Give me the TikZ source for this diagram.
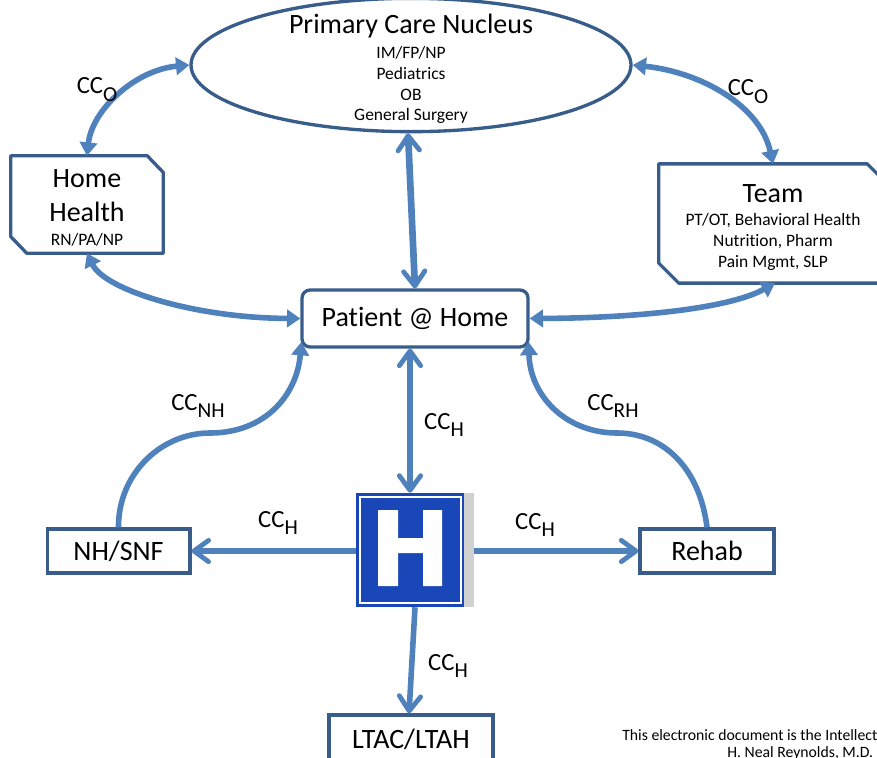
\documentclass[tikz,border=0pt]{standalone}
\usepackage{fontspec}
\setmainfont[Ligatures=NoCommon]{Carlito}
\usetikzlibrary{arrows.meta,shapes.geometric}
\definecolor{linkblue}{HTML}{4F81BD}
\definecolor{edgeblue}{HTML}{385D8A}
\definecolor{signblue}{HTML}{1A47B8}
\tikzset{
  x=0.75pt,y=-0.75pt,
  boxline/.style={draw=edgeblue,line width=2.5pt,fill=white,inner sep=0pt,align=center},
  rectbox/.style={boxline,rectangle},
  ghost/.style={rectangle,inner sep=0pt},
  chamfer/.style={draw=edgeblue,line width=2.5pt,fill=white,line join=round},
  link/.style={draw=linkblue,line width=4.2pt},
  thicklink/.style={draw=linkblue,line width=5pt},
  solidtip/.tip={Triangle[length=10pt,width=13pt]},
  opentip/.tip={Straight Barb[length=11pt,width=16pt,line width=3.6pt,round]},
  big/.style={font=\fontsize{21}{25.5}\selectfont},
  small/.style={font=\fontsize{13.1}{15.5}\selectfont,text=black},
  lab/.style={font=\fontsize{18.5}{20}\selectfont,inner sep=0pt},
  foot/.style={font=\fontsize{11.8}{14}\selectfont,anchor=west,inner sep=0pt},
}
\newcommand{\CCsub}[1]{CC\raisebox{-0.32em}{\fontsize{16}{16}\selectfont #1}}
\newcommand{\dropped}[1]{\raisebox{-0.9pt}{#1}}
\begin{document}
\begin{tikzpicture}
\useasboundingbox (0,0) rectangle (877,757);
\clip (0,0) rectangle (877,757);
% nodes
\node[boxline,ellipse,minimum width=330pt,minimum height=100pt] (nucleus) at (411,65) {};
\node[big] (nucleustitle) at (411,26.5) {Primary Care Nucleus};
\node[small,align=center,anchor=north] (nucleustext) at (411,42) {IM/FP/NP\\Pediatrics\\OB\\General Surgery};
\node[ghost,minimum width=114pt,minimum height=72.7pt] (home) at (87,204.5) {};
\draw[chamfer] (home.north west) -- ([xshift=-12pt]home.north east) -- ([yshift=-12.5pt]home.north east) -- (home.south east) -- ([xshift=12pt]home.south west) -- ([yshift=12.5pt]home.south west) -- cycle;
\node[big,align=center] (hometitle) at (87,196) {Home\\Health};
\node[small] (hometext) at (87,240) {RN/PA/NP};
\node[ghost,minimum width=171pt,minimum height=89pt] (team) at (773,223.5) {};
\draw[chamfer] (team.north west) -- ([xshift=-15pt]team.north east) -- ([yshift=-15pt]team.north east) -- (team.south east) -- ([xshift=15pt]team.south west) -- ([yshift=15pt]team.south west) -- cycle;
\node[big] (teamtitle) at (773,194) {Team};
\node[small,align=center] (teamtext) at (773,242) {PT/OT, Behavioral Health\\Nutrition, Pharm\\Pain Mgmt, SLP};
\node[boxline,rectangle,rounded corners=6pt,minimum width=169.5pt,minimum height=42.7pt,big] (patient) at (415,318.5) {\dropped{Patient @ Home}};
\node[rectbox,minimum width=107pt,minimum height=33pt,big] (snf) at (118.5,551) {\dropped{NH/SNF}};
\node[rectbox,minimum width=100.5pt,minimum height=33pt,big] (rehab) at (707,551) {\dropped{Rehab}};
\node[rectbox,line width=3.1pt,minimum width=123.5pt,minimum height=40pt] (ltac) at (411,742) {};
\node[big] (ltactext) at (411,739) {LTAC/LTAH};
% hospital sign
\fill[black!18] (464,493) rectangle (474,607);
\node[rectangle,fill=signblue,minimum width=80.5pt,minimum height=85.5pt,inner sep=0pt] (hospital) at (410,550) {};
\draw[white,line width=0.9pt] (360,497) rectangle (461,603);
\fill[white] (378,510) -- (398,510) -- (398,538) -- (423,538) -- (423,510) -- (442,510) -- (442,586) -- (423,586) -- (423,553) -- (398,553) -- (398,586) -- (378,586) -- cycle;
% anchors of the connectors
\coordinate (nb) at ([xshift=-2.25pt]nucleus.south);
\coordinate (pb) at ([xshift=-3.75pt]patient.south);
\coordinate (pbl) at ([xshift=0.75pt,yshift=5pt]patient.south west);
\coordinate (pbr) at ([xshift=-0.75pt,yshift=5pt]patient.south east);
\coordinate (tb) at ([xshift=1.5pt]team.south);
\coordinate (sgl) at ([yshift=-0.75pt]hospital.west);
\coordinate (sgr) at (474,551);
\coordinate (sgb) at ([xshift=3.75pt]hospital.south);
\coordinate (ltact) at ([xshift=-1.5pt]ltac.north);
% connectors
\draw[link,{solidtip}-{solidtip}] (nucleus.west) .. controls (135,70) and (92,110) .. (home.north);
\draw[link,{solidtip}-{solidtip}] (nucleus.east) .. controls (700,72) and (760,105) .. (team.north);
\draw[link,{solidtip}-{solidtip}] (home.south) .. controls (105,290) and (195,318) .. (patient.west);
\draw[link,{solidtip}-{solidtip}] (patient.east) .. controls (640,318) and (730,308) .. (tb);
\draw[thicklink,{opentip}-{opentip}] (nb) -- (patient.north);
\draw[thicklink,{opentip}-{opentip}] (pb) -- (hospital.north);
\draw[link,-{opentip}] (sgl) -- (snf.east);
\draw[link,-{opentip}] (sgr) -- (rehab.west);
\draw[link,-{opentip}] (sgb) -- (ltact);
\draw[link,-{solidtip}] (snf.north) .. controls (118,475) and (160,433) .. (210,433) .. controls (265,433) and (297,395) .. (pbl);
\draw[link,-{solidtip}] (rehab.north) .. controls (700,470) and (665,433) .. (617,433) .. controls (565,433) and (530,395) .. (pbr);
% labels
\node[lab] (l1) at (97,90) {\CCsub{O}};
\node[lab] (l2) at (748,92) {\CCsub{O}};
\node[lab] (l3) at (198,406) {\CCsub{NH}};
\node[lab] (l4) at (613,406) {\CCsub{RH}};
\node[lab] (l5) at (444,425) {\CCsub{H}};
\node[lab] (l6) at (278,523) {\CCsub{H}};
\node[lab] (l7) at (535,525) {\CCsub{H}};
\node[lab] (l8) at (448,666) {\CCsub{H}};
\node[foot] (n1) at (622,735) {This electronic document is the Intellect};
\node[foot] (n2) at (727,753) {H. Neal Reynolds, M.D.};
\end{tikzpicture}
\end{document}
